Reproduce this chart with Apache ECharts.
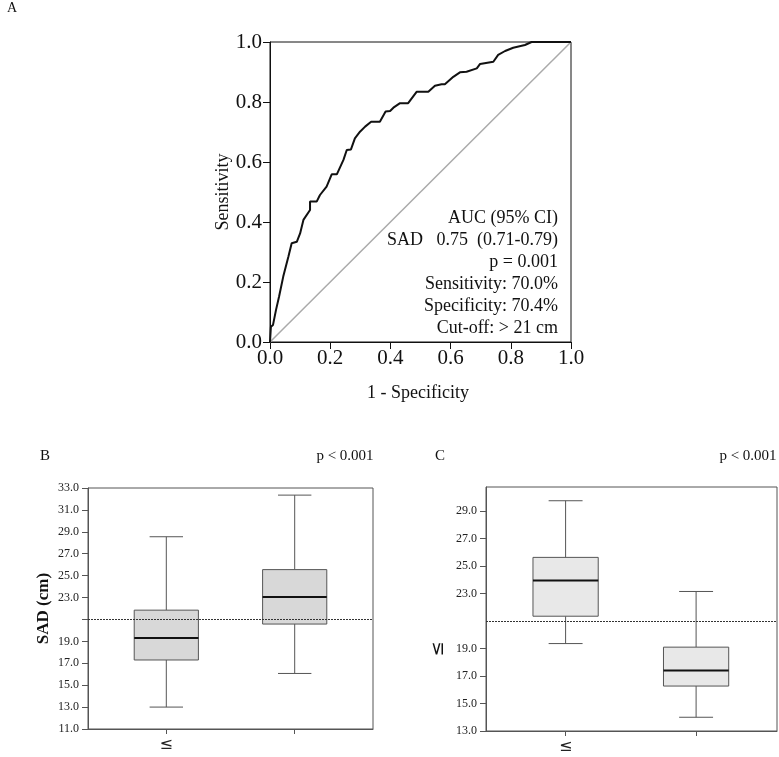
<!DOCTYPE html>
<html>
<head>
<meta charset="utf-8">
<script src="https://cdn.jsdelivr.net/npm/echarts@6/dist/echarts.min.js"></script>
<style>
html,body{margin:0;padding:0;background:#fff;}
#chart{width:779px;height:757px;}
</style>
</head>
<body>
<div id="chart"></div>
<script>
// ---- Panel A: ROC curve (1 - specificity, sensitivity)
const rocFpr = [0, 0.003, 0.010, 0.020, 0.030, 0.044, 0.061, 0.072, 0.089, 0.100, 0.111, 0.133, 0.133, 0.155, 0.166, 0.188, 0.205, 0.222, 0.244, 0.255, 0.269, 0.282, 0.299, 0.316, 0.336, 0.365, 0.384, 0.399, 0.410, 0.432, 0.459, 0.487, 0.526, 0.548, 0.570, 0.581, 0.609, 0.631, 0.653, 0.687, 0.698, 0.742, 0.758, 0.781, 0.808, 0.847, 0.869, 1.0];
const rocTpr = [0, 0.051, 0.057, 0.107, 0.151, 0.218, 0.284, 0.329, 0.334, 0.362, 0.407, 0.440, 0.468, 0.468, 0.490, 0.518, 0.559, 0.559, 0.607, 0.640, 0.642, 0.679, 0.701, 0.718, 0.734, 0.734, 0.768, 0.770, 0.781, 0.796, 0.796, 0.834, 0.834, 0.854, 0.859, 0.859, 0.884, 0.899, 0.901, 0.912, 0.927, 0.934, 0.957, 0.970, 0.981, 0.990, 1.0, 1.0];
const diagX = [0, 1];
const diagY = [0, 1];
const rocText = ['AUC (95% CI)', 'SAD   0.75  (0.71-0.79)', 'p = 0.001', 'Sensitivity: 70.0%', 'Specificity: 70.4%', 'Cut-off: > 21 cm'];

// ---- Panel B: SAD (cm) boxplots  [low, q1, median, q3, high]
const bCategories = ['≤', ''];
const bPositions = [1, 2];
const bStats = [
  [13.0, 17.3, 19.3, 21.85, 28.55],
  [16.07, 20.58, 23.05, 25.55, 32.35]
];
const bTicks = [11, 13, 15, 17, 19, 23, 25, 27, 29, 31, 33];
const bTickMarks = [11, 13, 15, 17, 19, 21, 23, 25, 27, 29, 31, 33];

// ---- Panel C boxplots
const cCategories = ['≤', ''];
const cPositions = [1, 2];
const cStats = [
  [19.36, 21.35, 23.95, 25.63, 29.75],
  [14.0, 16.27, 17.41, 19.1, 23.15]
];
const cTicks = [13, 15, 17, 19, 23, 25, 27, 29];
const cTickMarks = [13, 15, 17, 19, 23, 25, 27, 29];

const cutOff = 21;
const pText = 'p < 0.001';

const serif = '"Liberation Serif", "Times New Roman", serif';

const rocData = rocFpr.map((x, i) => [x, rocTpr[i]]);
const diagData = diagX.map((x, i) => [x, diagY[i]]);
const bData = bStats.map((s, i) => [bPositions[i]].concat(s));
const cData = cStats.map((s, i) => [cPositions[i]].concat(s));

function boxRender(fill) {
  return function (params, api) {
    const x = api.value(0);
    const low = api.coord([x, api.value(1)]);
    const q1 = api.coord([x, api.value(2)]);
    const med = api.coord([x, api.value(3)]);
    const q3 = api.coord([x, api.value(4)]);
    const high = api.coord([x, api.value(5)]);
    const halfW = api.size([0.25, 0])[0];
    const capW = api.size([0.13, 0])[0];
    const cx = med[0];
    const ls = { stroke: '#555', lineWidth: 1 };
    return {
      type: 'group',
      children: [
        { type: 'line', shape: { x1: cx, y1: high[1], x2: cx, y2: q3[1] }, style: ls },
        { type: 'line', shape: { x1: cx, y1: q1[1], x2: cx, y2: low[1] }, style: ls },
        { type: 'line', shape: { x1: cx - capW, y1: high[1], x2: cx + capW, y2: high[1] }, style: ls },
        { type: 'line', shape: { x1: cx - capW, y1: low[1], x2: cx + capW, y2: low[1] }, style: ls },
        { type: 'rect', shape: { x: cx - halfW, y: q3[1], width: 2 * halfW, height: q1[1] - q3[1] }, style: { fill: fill, stroke: '#555', lineWidth: 1 } },
        { type: 'line', shape: { x1: cx - halfW, y1: med[1], x2: cx + halfW, y2: med[1] }, style: { stroke: '#111', lineWidth: 2 } }
      ]
    };
  };
}

const smallAxisY = (min, max, labels, marks) => ({
  type: 'value', min: min, max: max,
  axisLine: { show: true, lineStyle: { color: '#555', width: 1 } },
  axisTick: { show: true, length: 6, customValues: marks, lineStyle: { color: '#555' } },
  axisLabel: { customValues: labels, formatter: v => v.toFixed(1), fontFamily: serif, fontSize: 12, color: '#222', margin: 9 },
  splitLine: { show: false }
});
const smallAxisX = (cats) => ({
  type: 'value', min: 0.39, max: 2.61,
  axisLine: { show: true, lineStyle: { color: '#555', width: 1 } },
  axisTick: { show: true, length: 5, customValues: [1, 2], lineStyle: { color: '#555' } },
  axisLabel: { customValues: [1], formatter: v => cats[Math.round(v) - 1], fontFamily: '"DejaVu Sans", sans-serif', fontSize: 16, color: '#222', margin: 8 },
  splitLine: { show: false }
});

const chart = echarts.init(document.getElementById('chart'), null, { renderer: 'canvas' });
chart.setOption({
  backgroundColor: '#fff',
  animation: false,
  grid: [
    { left: 270, top: 42, width: 301, height: 300, show: true, borderColor: '#111', borderWidth: 1, backgroundColor: 'transparent' },
    { left: 88, top: 488, width: 285, height: 241, show: true, borderColor: '#555', borderWidth: 1, backgroundColor: 'transparent' },
    { left: 486, top: 487, width: 291, height: 244, show: true, borderColor: '#555', borderWidth: 1, backgroundColor: 'transparent' }
  ],
  xAxis: [
    {
      gridIndex: 0, type: 'value', min: 0, max: 1, interval: 0.2,
      axisLine: { show: true, lineStyle: { color: '#111', width: 1 } },
      axisTick: { show: true, length: 7, lineStyle: { color: '#111' } },
      axisLabel: { formatter: v => v.toFixed(1), fontFamily: serif, fontSize: 21, color: '#111', margin: 6 },
      splitLine: { show: false }
    },
    Object.assign({ gridIndex: 1 }, smallAxisX(bCategories)),
    Object.assign({ gridIndex: 2 }, smallAxisX(cCategories), { max: 2.62 })
  ],
  yAxis: [
    {
      gridIndex: 0, type: 'value', min: 0, max: 1, interval: 0.2,
      name: 'Sensitivity', nameLocation: 'middle', nameGap: 37,
      nameTextStyle: { fontFamily: serif, fontSize: 18, color: '#111' },
      axisLine: { show: true, lineStyle: { color: '#111', width: 1 } },
      axisTick: { show: true, length: 7, lineStyle: { color: '#111' } },
      axisLabel: { formatter: v => v.toFixed(1), fontFamily: serif, fontSize: 21, color: '#111', margin: 8 },
      splitLine: { show: false }
    },
    Object.assign({ gridIndex: 1, name: 'SAD (cm)', nameLocation: 'middle', nameGap: 36,
      nameTextStyle: { fontFamily: serif, fontSize: 17, fontWeight: 'bold', color: '#111' } },
      smallAxisY(11, 33, bTicks, bTickMarks)),
    Object.assign({ gridIndex: 2 }, smallAxisY(13, 30.75, cTicks, cTickMarks))
  ],
  series: [
    { type: 'line', xAxisIndex: 0, yAxisIndex: 0, data: diagData, symbol: 'none', lineStyle: { color: '#aaa', width: 1.5 }, silent: true },
    { type: 'line', xAxisIndex: 0, yAxisIndex: 0, data: rocData, symbol: 'none', lineStyle: { color: '#111', width: 2 }, silent: true },
    {
      type: 'custom', xAxisIndex: 1, yAxisIndex: 1, data: bData, renderItem: boxRender('#d8d8d8'),
      encode: { x: 0, y: [1, 2, 3, 4, 5] }, silent: true, z: 3,
      markLine: { silent: true, symbol: 'none', label: { show: false }, lineStyle: { color: '#333', type: [2, 1], width: 1 }, data: [{ yAxis: cutOff }] }
    },
    {
      type: 'custom', xAxisIndex: 2, yAxisIndex: 2, data: cData, renderItem: boxRender('#e8e8e8'),
      encode: { x: 0, y: [1, 2, 3, 4, 5] }, silent: true, z: 3,
      markLine: { silent: true, symbol: 'none', label: { show: false }, lineStyle: { color: '#333', type: [2, 1], width: 1 }, data: [{ yAxis: cutOff }] }
    }
  ],
  graphic: [
    { type: 'text', x: 12, y: 8, style: { text: 'A', font: '14px ' + serif, fill: '#111', align: 'center', verticalAlign: 'middle' } },
    { type: 'text', x: 418, y: 393, style: { text: '1 - Specificity', font: '18px ' + serif, fill: '#111', align: 'center', verticalAlign: 'middle' } },
    ...rocText.map((t, i) => ({ type: 'text', x: 558, y: 218 + i * 22, style: { text: t, font: '18px ' + serif, fill: '#111', align: 'right', verticalAlign: 'middle' } })),
    { type: 'text', x: 45, y: 456, style: { text: 'B', font: '15px ' + serif, fill: '#111', align: 'center', verticalAlign: 'middle' } },
    { type: 'text', x: 440, y: 456, style: { text: 'C', font: '15px ' + serif, fill: '#111', align: 'center', verticalAlign: 'middle' } },
    { type: 'text', x: 345, y: 456, style: { text: pText, font: '15px ' + serif, fill: '#111', align: 'center', verticalAlign: 'middle' } },
    { type: 'text', x: 748, y: 456, style: { text: pText, font: '15px ' + serif, fill: '#111', align: 'center', verticalAlign: 'middle' } },
    { type: 'text', x: 438, y: 649, rotation: Math.PI / 2, style: { text: '≤', font: '18px "DejaVu Sans", sans-serif', fill: '#111', align: 'center', verticalAlign: 'middle' } }
  ]
});
</script>
</body>
</html>
